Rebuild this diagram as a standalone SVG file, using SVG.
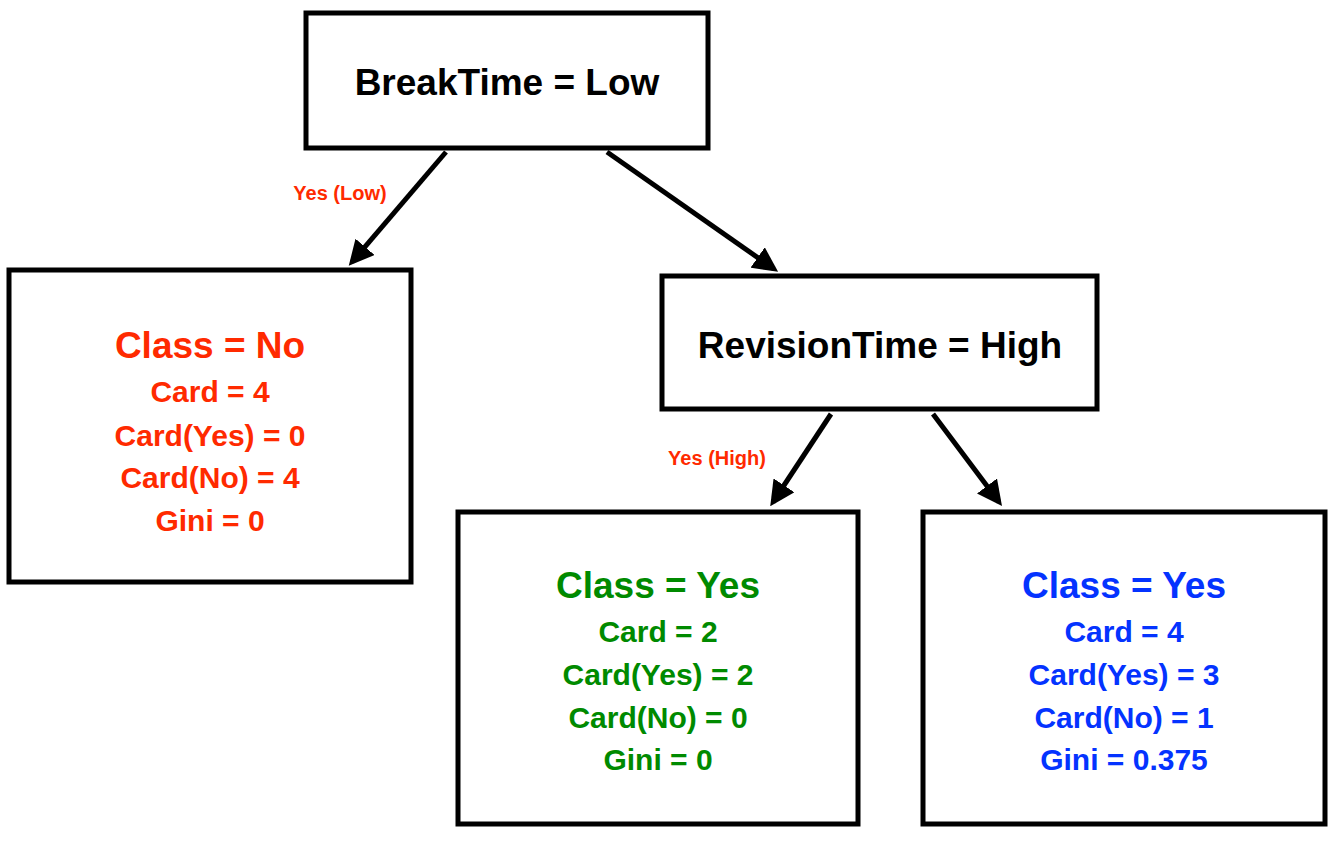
<svg xmlns="http://www.w3.org/2000/svg" width="1342" height="846" viewBox="0 0 1342 846">
<style>
.box{fill:#fff;stroke:#000;stroke-width:5}
text{font-family:"Liberation Sans",Arial,sans-serif;font-weight:bold;text-anchor:middle}
.h{font-size:37px}
.t{font-size:30px}
.r{fill:#ff2a00}.g{fill:#008a00}.b{fill:#0433ff}
.lbl{font-size:20px;fill:#ff2a00}
.c{stroke:#000;stroke-width:5;fill:none;marker-end:url(#ah)}
</style>
<defs><marker id="ah" viewBox="0 0 10 10" refX="8" refY="5" markerWidth="5" markerHeight="5" orient="auto" markerUnits="strokeWidth"><path d="M0,0L10,5L0,10z" fill="#000"/></marker></defs>
<rect width="1342" height="846" fill="#fff"/>
<g id="connectors">
<line class="c" x1="446" y1="152" x2="352" y2="262"/>
<line class="c" x1="607" y1="152" x2="774" y2="269"/>
<line class="c" x1="831" y1="414" x2="773" y2="502"/>
<line class="c" x1="933" y1="414" x2="999" y2="502"/>
<text class="lbl" x="340" y="200">Yes (Low)</text>
<text class="lbl" x="717" y="465">Yes (High)</text>
</g>
<g id="root"><rect class="box" x="306" y="13" width="402" height="135"/><text class="h" x="507" y="95">BreakTime = Low</text></g>
<g id="left"><rect class="box" x="9" y="270" width="402" height="312"/>
<text class="h r" x="210" y="358">Class = No</text>
<text class="t r" x="210" y="402">Card = 4</text>
<text class="t r" x="210" y="446">Card(Yes) = 0</text>
<text class="t r" x="210" y="488">Card(No) = 4</text>
<text class="t r" x="210" y="531">Gini = 0</text></g>
<g id="revision"><rect class="box" x="662" y="276" width="435" height="133"/><text class="h" x="880" y="358">RevisionTime = High</text></g>
<g id="green"><rect class="box" x="458" y="512" width="400" height="312"/>
<text class="h g" x="658" y="598">Class = Yes</text>
<text class="t g" x="658" y="642">Card = 2</text>
<text class="t g" x="658" y="685">Card(Yes) = 2</text>
<text class="t g" x="658" y="728">Card(No) = 0</text>
<text class="t g" x="658" y="770">Gini = 0</text></g>
<g id="blue"><rect class="box" x="923" y="512" width="402" height="312"/>
<text class="h b" x="1124" y="598">Class = Yes</text>
<text class="t b" x="1124" y="642">Card = 4</text>
<text class="t b" x="1124" y="685">Card(Yes) = 3</text>
<text class="t b" x="1124" y="728">Card(No) = 1</text>
<text class="t b" x="1124" y="770">Gini = 0.375</text></g>
</svg>
